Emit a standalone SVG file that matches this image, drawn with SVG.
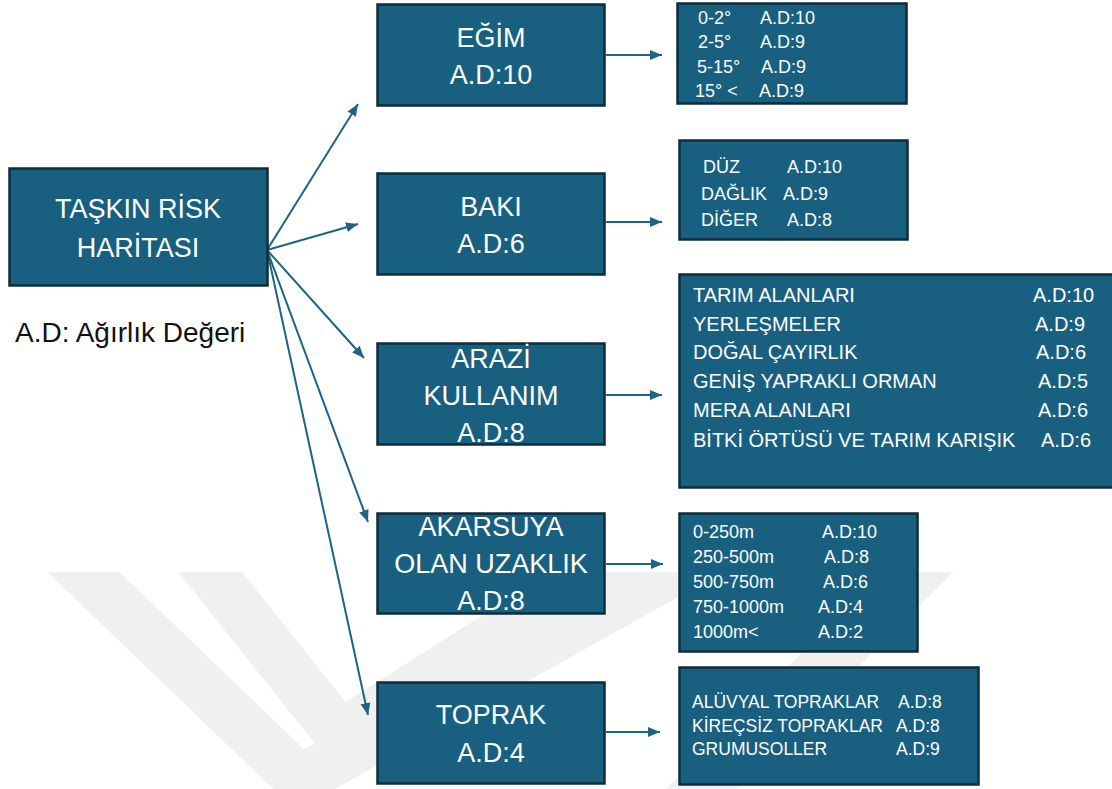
<svg xmlns="http://www.w3.org/2000/svg" width="1112" height="789" viewBox="0 0 1112 789">
<defs>
<style>
.box{fill:#185f80;stroke:#0d2c3d;stroke-width:2.5}
.t{font-family:"Liberation Sans",Arial,sans-serif;fill:#ffffff}
.big{font-size:27px;text-anchor:middle}
.c{stroke:#1d6384;stroke-width:2;fill:none}
.wm{stroke:#f0f0f0;stroke-width:50;fill:none;stroke-linecap:square;stroke-linejoin:miter}
</style>
<clipPath id="wmclip"><rect x="0" y="572" width="1112" height="217"/></clipPath>
<marker id="ah" markerUnits="userSpaceOnUse" markerWidth="14" markerHeight="12" refX="12" refY="5" orient="auto">
<path d="M0,0 L12,5 L0,10 Z" fill="#1d6384"/>
</marker>
</defs>
<rect width="1112" height="789" fill="#ffffff"/>
<g id="watermark" clip-path="url(#wmclip)">
<path class="wm" d="M50,540 L300,780 L720,545"/>
<path class="wm" d="M185,540 L340,735 L640,545"/>
<path class="wm" d="M945,545 L690,800"/>
</g>
<g id="connectors">
<path class="c" d="M267,250 L358,104" marker-end="url(#ah)"/>
<path class="c" d="M267,250 L358,224" marker-end="url(#ah)"/>
<path class="c" d="M267,250 L364,358" marker-end="url(#ah)"/>
<path class="c" d="M267,250 L368,522" marker-end="url(#ah)"/>
<path class="c" d="M267,250 L368,715" marker-end="url(#ah)"/>
<path class="c" d="M606,55 L662,55" marker-end="url(#ah)"/>
<path class="c" d="M606,222 L662,222" marker-end="url(#ah)"/>
<path class="c" d="M606,395 L662,395" marker-end="url(#ah)"/>
<path class="c" d="M606,564 L663,564" marker-end="url(#ah)"/>
<path class="c" d="M606,732 L660,732" marker-end="url(#ah)"/>
</g>
<g id="root">
<rect class="box" x="9.5" y="168.5" width="258" height="117"/>
<text class="t big" x="138" y="218">TAŞKIN RİSK</text>
<text class="t big" x="138" y="257">HARİTASI</text>
</g>
<g id="legend">
<text x="15" y="342" font-family="Liberation Sans, Arial, sans-serif" font-size="28" fill="#111111">A.D: Ağırlık Değeri</text>
</g>
<g id="egim">
<rect class="box" x="377.5" y="4.5" width="227" height="101"/>
<text class="t big" x="491" y="47">EĞİM</text>
<text class="t big" x="491" y="84">A.D:10</text>
</g>
<g id="baki">
<rect class="box" x="377.5" y="173.5" width="227" height="101"/>
<text class="t big" x="491" y="216">BAKI</text>
<text class="t big" x="491" y="253">A.D:6</text>
</g>
<g id="arazi">
<rect class="box" x="377.5" y="343.5" width="227" height="101"/>
<text class="t big" x="491" y="368">ARAZİ</text>
<text class="t big" x="491" y="405">KULLANIM</text>
<text class="t big" x="491" y="442">A.D:8</text>
</g>
<g id="akarsuya">
<rect class="box" x="377.5" y="513.5" width="227" height="100"/>
<text class="t big" x="491" y="536">AKARSUYA</text>
<text class="t big" x="491" y="573">OLAN UZAKLIK</text>
<text class="t big" x="491" y="610">A.D:8</text>
</g>
<g id="toprak">
<rect class="box" x="377.5" y="682.5" width="227" height="101"/>
<text class="t big" x="491" y="724">TOPRAK</text>
<text class="t big" x="491" y="762">A.D:4</text>
</g>
<g id="egim-table" class="t" font-size="18">
<rect class="box" x="677.5" y="3.5" width="229" height="100"/>
<text x="698" y="24">0-2°</text><text x="760" y="24">A.D:10</text>
<text x="698" y="48">2-5°</text><text x="760" y="48">A.D:9</text>
<text x="697" y="73">5-15°</text><text x="761" y="73">A.D:9</text>
<text x="695" y="97">15° &lt;</text><text x="759" y="97">A.D:9</text>
</g>
<g id="baki-table" class="t" font-size="18">
<rect class="box" x="679.5" y="140.5" width="228" height="99"/>
<text x="703" y="173">DÜZ</text><text x="787" y="173">A.D:10</text>
<text x="701" y="200">DAĞLIK</text><text x="783" y="200">A.D:9</text>
<text x="701" y="226">DİĞER</text><text x="787" y="226">A.D:8</text>
</g>
<g id="arazi-table" class="t" font-size="20">
<rect class="box" x="679.5" y="274.5" width="440" height="213"/>
<text x="693" y="302">TARIM ALANLARI</text><text x="1033" y="302">A.D:10</text>
<text x="693" y="331">YERLEŞMELER</text><text x="1035" y="331">A.D:9</text>
<text x="693" y="359">DOĞAL ÇAYIRLIK</text><text x="1036" y="359">A.D:6</text>
<text x="693" y="388">GENİŞ YAPRAKLI ORMAN</text><text x="1038" y="388">A.D:5</text>
<text x="693" y="417">MERA ALANLARI</text><text x="1038" y="417">A.D:6</text>
<text x="693" y="447">BİTKİ ÖRTÜSÜ VE TARIM KARIŞIK</text><text x="1041" y="447">A.D:6</text>
</g>
<g id="akarsuya-table" class="t" font-size="18">
<rect class="box" x="679.5" y="513.5" width="238" height="138"/>
<text x="693" y="538">0-250m</text><text x="822" y="538">A.D:10</text>
<text x="693" y="563">250-500m</text><text x="824" y="563">A.D:8</text>
<text x="693" y="588">500-750m</text><text x="823" y="588">A.D:6</text>
<text x="693" y="613">750-1000m</text><text x="818" y="613">A.D:4</text>
<text x="693" y="638">1000m&lt;</text><text x="818" y="638">A.D:2</text>
</g>
<g id="toprak-table" class="t" font-size="17.5">
<rect class="box" x="679.5" y="667.5" width="299" height="117"/>
<text x="692" y="708">ALÜVYAL TOPRAKLAR</text><text x="898" y="708">A.D:8</text>
<text x="692" y="732">KİREÇSİZ TOPRAKLAR</text><text x="896" y="732">A.D:8</text>
<text x="692" y="755">GRUMUSOLLER</text><text x="896" y="755">A.D:9</text>
</g>
</svg>
